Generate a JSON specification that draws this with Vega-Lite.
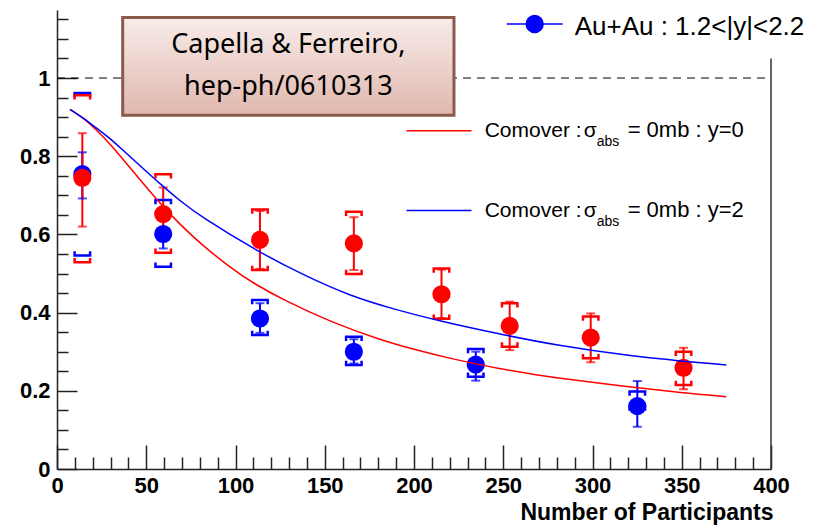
{
  "$schema": "https://vega.github.io/schema/vega-lite/v6.json",
  "width": 714,
  "height": 459,
  "autosize": {"type": "none"},
  "padding": {"left": 57, "top": 10, "right": 50, "bottom": 56},
  "background": "white",
  "config": {"view": {"stroke": null}},
  "data": {"values": [{}]},
  "resolve": {"axis": {"x": "independent", "y": "independent"}},
  "datasets": {
    "points": [
      {"series": "Au+Au 1.2<|y|<2.2", "x": 14.2, "y": 0.754, "stat_lo": 0.692, "stat_hi": 0.810, "sys_lo": 0.546, "sys_hi": 0.962},
      {"series": "Au+Au 1.2<|y|<2.2", "x": 59.5, "y": 0.601, "stat_lo": 0.564, "stat_hi": 0.638, "sys_lo": 0.517, "sys_hi": 0.688},
      {"series": "Au+Au 1.2<|y|<2.2", "x": 113.7, "y": 0.385, "stat_lo": 0.348, "stat_hi": 0.424, "sys_lo": 0.343, "sys_hi": 0.432},
      {"series": "Au+Au 1.2<|y|<2.2", "x": 166.3, "y": 0.300, "stat_lo": 0.270, "stat_hi": 0.332, "sys_lo": 0.266, "sys_hi": 0.338},
      {"series": "Au+Au 1.2<|y|<2.2", "x": 234.6, "y": 0.267, "stat_lo": 0.226, "stat_hi": 0.300, "sys_lo": 0.236, "sys_hi": 0.307},
      {"series": "Au+Au 1.2<|y|<2.2", "x": 325.1, "y": 0.161, "stat_lo": 0.108, "stat_hi": 0.225, "sys_lo": 0.152, "sys_hi": 0.198},
      {"series": "Au+Au |y|<0.35", "x": 14.2, "y": 0.745, "stat_lo": 0.620, "stat_hi": 0.859, "sys_lo": 0.529, "sys_hi": 0.956},
      {"series": "Au+Au |y|<0.35", "x": 59.5, "y": 0.652, "stat_lo": 0.584, "stat_hi": 0.720, "sys_lo": 0.553, "sys_hi": 0.754},
      {"series": "Au+Au |y|<0.35", "x": 113.7, "y": 0.586, "stat_lo": 0.512, "stat_hi": 0.660, "sys_lo": 0.509, "sys_hi": 0.664},
      {"series": "Au+Au |y|<0.35", "x": 166.3, "y": 0.577, "stat_lo": 0.509, "stat_hi": 0.644, "sys_lo": 0.499, "sys_hi": 0.658},
      {"series": "Au+Au |y|<0.35", "x": 215.4, "y": 0.447, "stat_lo": 0.386, "stat_hi": 0.510, "sys_lo": 0.384, "sys_hi": 0.513},
      {"series": "Au+Au |y|<0.35", "x": 253.6, "y": 0.366, "stat_lo": 0.304, "stat_hi": 0.428, "sys_lo": 0.313, "sys_hi": 0.424},
      {"series": "Au+Au |y|<0.35", "x": 299.0, "y": 0.336, "stat_lo": 0.273, "stat_hi": 0.398, "sys_lo": 0.283, "sys_hi": 0.390},
      {"series": "Au+Au |y|<0.35", "x": 351.0, "y": 0.259, "stat_lo": 0.204, "stat_hi": 0.310, "sys_lo": 0.215, "sys_hi": 0.300}
    ],
    "curves": [
      {"curve": "Comover y=0", "x": 7.3, "y": 0.920},
      {"curve": "Comover y=0", "x": 15, "y": 0.897},
      {"curve": "Comover y=0", "x": 22, "y": 0.868},
      {"curve": "Comover y=0", "x": 30, "y": 0.830},
      {"curve": "Comover y=0", "x": 37, "y": 0.792},
      {"curve": "Comover y=0", "x": 45, "y": 0.748},
      {"curve": "Comover y=0", "x": 56, "y": 0.688},
      {"curve": "Comover y=0", "x": 69, "y": 0.625},
      {"curve": "Comover y=0", "x": 80, "y": 0.578},
      {"curve": "Comover y=0", "x": 97, "y": 0.515},
      {"curve": "Comover y=0", "x": 110, "y": 0.475},
      {"curve": "Comover y=0", "x": 127, "y": 0.432},
      {"curve": "Comover y=0", "x": 153, "y": 0.377},
      {"curve": "Comover y=0", "x": 181, "y": 0.330},
      {"curve": "Comover y=0", "x": 203, "y": 0.302},
      {"curve": "Comover y=0", "x": 220, "y": 0.283},
      {"curve": "Comover y=0", "x": 248, "y": 0.256},
      {"curve": "Comover y=0", "x": 270, "y": 0.240},
      {"curve": "Comover y=0", "x": 282, "y": 0.232},
      {"curve": "Comover y=0", "x": 321, "y": 0.210},
      {"curve": "Comover y=0", "x": 350, "y": 0.195},
      {"curve": "Comover y=0", "x": 375, "y": 0.185},
      {"curve": "Comover y=2", "x": 7.3, "y": 0.920},
      {"curve": "Comover y=2", "x": 15, "y": 0.897},
      {"curve": "Comover y=2", "x": 22, "y": 0.872},
      {"curve": "Comover y=2", "x": 30, "y": 0.845},
      {"curve": "Comover y=2", "x": 37, "y": 0.815},
      {"curve": "Comover y=2", "x": 45, "y": 0.782},
      {"curve": "Comover y=2", "x": 59.5, "y": 0.722},
      {"curve": "Comover y=2", "x": 69, "y": 0.686},
      {"curve": "Comover y=2", "x": 80, "y": 0.647},
      {"curve": "Comover y=2", "x": 114, "y": 0.552},
      {"curve": "Comover y=2", "x": 140, "y": 0.492},
      {"curve": "Comover y=2", "x": 164, "y": 0.443},
      {"curve": "Comover y=2", "x": 190, "y": 0.407},
      {"curve": "Comover y=2", "x": 214, "y": 0.379},
      {"curve": "Comover y=2", "x": 248, "y": 0.345},
      {"curve": "Comover y=2", "x": 280, "y": 0.316},
      {"curve": "Comover y=2", "x": 321, "y": 0.289},
      {"curve": "Comover y=2", "x": 350, "y": 0.276},
      {"curve": "Comover y=2", "x": 375, "y": 0.266}
    ]
  },
  "layer": [
    {
      "data": {"name": "points"},
      "mark": {"type": "rule", "strokeWidth": 2},
      "encoding": {
        "x": {"field": "x", "type": "quantitative", "scale": {"domain": [0, 400], "nice": false},
          "axis": {
            "orient": "bottom",
            "values": [0, 50, 100, 150, 200, 250, 300, 350, 400],
            "format": "d",
            "tickSize": -24,
            "tickColor": "#222222", "tickWidth": 1.5,
            "domainColor": "#222222", "domainWidth": 1.5,
            "labelFont": "Liberation Sans", "labelFontWeight": "bold", "labelFontSize": 22, "labelColor": "black",
            "labelBaseline": "top", "labelPadding": 30, "labelFlush": false, "labelOverlap": false,
            "grid": false,
            "title": "Number of Participants", "titleFont": "Liberation Sans", "titleFontWeight": "bold", "titleFontSize": 23,
            "titleColor": "black", "titleAlign": "right", "titleAnchor": "end", "titleBaseline": "alphabetic", "titleX": 716, "titleY": 50
          }},
        "y": {"field": "stat_lo", "type": "quantitative", "scale": {"domain": [0, 1.174], "nice": false},
          "axis": {
            "orient": "left",
            "values": [0, 0.2, 0.4, 0.6, 0.8, 1],
            "labelExpr": "format(datum.value, '.1~f')",
            "tickSize": -20,
            "tickColor": "#222222", "tickWidth": 1.5,
            "domainColor": "#222222", "domainWidth": 1.5,
            "labelFont": "Liberation Sans", "labelFontWeight": "bold", "labelFontSize": 22, "labelColor": "black",
            "labelAlign": "right", "labelBaseline": "middle", "labelPadding": 27, "labelFlush": false, "labelOverlap": false,
            "grid": false, "title": null
          }},
        "y2": {"field": "stat_hi"},
        "color": {"field": "series", "type": "nominal", "legend": null,
          "scale": {"domain": ["Au+Au 1.2<|y|<2.2", "Au+Au |y|<0.35", "Comover y=0", "Comover y=2"], "range": ["#0000ff", "#ff0000", "#ff0000", "#0000ff"]}}
      }
    },
    {
      "mark": {"type": "rule", "color": "black", "strokeWidth": 1, "strokeDash": [8, 6]},
      "encoding": {
        "x": {"datum": 0, "type": "quantitative",
          "axis": {
            "orient": "bottom",
            "values": [10,20,30,40,60,70,80,90,110,120,130,140,160,170,180,190,210,220,230,240,260,270,280,290,310,320,330,340,360,370,380,390],
            "tickSize": -12, "tickColor": "#222222", "tickWidth": 1.5,
            "domain": false, "labels": false, "grid": false, "title": null
          }},
        "x2": {"datum": 400},
        "y": {"datum": 1, "type": "quantitative",
          "axis": {
            "orient": "left",
            "values": [0.05,0.1,0.15,0.25,0.3,0.35,0.45,0.5,0.55,0.65,0.7,0.75,0.85,0.9,0.95,1.05,1.1,1.15],
            "tickSize": -11, "tickColor": "#222222", "tickWidth": 1.5,
            "domain": false, "labels": false, "grid": false, "title": null
          }}
      }
    },
    {
      "mark": {"type": "rule", "color": "#333333", "strokeWidth": 1.5},
      "encoding": {
        "x": {"datum": 400, "type": "quantitative", "axis": null},
        "y": {"datum": 0, "type": "quantitative", "axis": null},
        "y2": {"datum": 1.05}
      }
    },
    {
      "data": {"name": "points"},
      "mark": {"type": "tick", "orient": "horizontal", "size": 9, "thickness": 2},
      "encoding": {
        "x": {"field": "x", "type": "quantitative", "axis": null},
        "y": {"field": "stat_lo", "type": "quantitative", "axis": null},
        "color": {"field": "series", "type": "nominal", "legend": null}
      }
    },
    {
      "data": {"name": "points"},
      "mark": {"type": "tick", "orient": "horizontal", "size": 9, "thickness": 2},
      "encoding": {
        "x": {"field": "x", "type": "quantitative", "axis": null},
        "y": {"field": "stat_hi", "type": "quantitative", "axis": null},
        "color": {"field": "series", "type": "nominal", "legend": null}
      }
    },
    {
      "data": {"name": "points"},
      "mark": {"type": "point", "shape": "M-1,0.55L-1,0L1,0L1,0.55", "filled": false, "size": 240, "strokeWidth": 2.5, "opacity": 1},
      "encoding": {
        "x": {"field": "x", "type": "quantitative", "axis": null},
        "y": {"field": "sys_hi", "type": "quantitative", "axis": null},
        "color": {"field": "series", "type": "nominal", "legend": null}
      }
    },
    {
      "data": {"name": "points"},
      "mark": {"type": "point", "shape": "M-1,-0.55L-1,0L1,0L1,-0.55", "filled": false, "size": 240, "strokeWidth": 2.5, "opacity": 1},
      "encoding": {
        "x": {"field": "x", "type": "quantitative", "axis": null},
        "y": {"field": "sys_lo", "type": "quantitative", "axis": null},
        "color": {"field": "series", "type": "nominal", "legend": null}
      }
    },
    {
      "data": {"name": "points"},
      "mark": {"type": "point", "shape": "circle", "filled": true, "size": 330, "opacity": 1},
      "encoding": {
        "x": {"field": "x", "type": "quantitative", "axis": null},
        "y": {"field": "y", "type": "quantitative", "axis": null},
        "color": {"field": "series", "type": "nominal", "legend": null}
      }
    },
    {
      "data": {"name": "curves"},
      "mark": {"type": "line", "strokeWidth": 1.5, "interpolate": "basis"},
      "encoding": {
        "x": {"field": "x", "type": "quantitative", "axis": null},
        "y": {"field": "y", "type": "quantitative", "axis": null},
        "color": {"field": "curve", "type": "nominal", "legend": null}
      }
    },
    {
      "mark": {"type": "rule", "color": "#0000ff", "strokeWidth": 1.5},
      "encoding": {
        "x": {"datum": 252, "type": "quantitative", "axis": null},
        "x2": {"datum": 283.3},
        "y": {"datum": 1.138, "type": "quantitative", "axis": null}
      }
    },
    {
      "mark": {"type": "point", "shape": "circle", "filled": true, "size": 340, "color": "#0000ff", "opacity": 1},
      "encoding": {
        "x": {"datum": 267.6, "type": "quantitative", "axis": null},
        "y": {"datum": 1.138, "type": "quantitative", "axis": null}
      }
    },
    {
      "mark": {"type": "text", "text": "Au+Au : 1.2<|y|<2.2", "font": "Liberation Sans", "fontSize": 26, "align": "left", "baseline": "alphabetic", "color": "black"},
      "encoding": {
        "x": {"datum": 290, "type": "quantitative", "axis": null},
        "y": {"datum": 1.110, "type": "quantitative", "axis": null}
      }
    },
    {
      "mark": {"type": "rule", "color": "#ff0000", "strokeWidth": 1.5},
      "encoding": {
        "x": {"datum": 195.8, "type": "quantitative", "axis": null},
        "x2": {"datum": 232.2},
        "y": {"datum": 0.865, "type": "quantitative", "axis": null}
      }
    },
    {
      "mark": {"type": "rule", "color": "#0000ff", "strokeWidth": 1.5},
      "encoding": {
        "x": {"datum": 195.8, "type": "quantitative", "axis": null},
        "x2": {"datum": 232.2},
        "y": {"datum": 0.661, "type": "quantitative", "axis": null}
      }
    },
    {
      "mark": {"type": "text", "text": "Comover :", "font": "Liberation Sans", "fontSize": 21, "align": "left", "baseline": "alphabetic", "color": "black"},
      "encoding": {"x": {"datum": 239.6, "type": "quantitative", "axis": null}, "y": {"datum": 0.850, "type": "quantitative", "axis": null}}
    },
    {
      "mark": {"type": "text", "text": "σ", "font": "Liberation Sans", "fontSize": 21, "align": "left", "baseline": "alphabetic", "color": "black"},
      "encoding": {"x": {"datum": 295.1, "type": "quantitative", "axis": null}, "y": {"datum": 0.850, "type": "quantitative", "axis": null}}
    },
    {
      "mark": {"type": "text", "text": "abs", "font": "Liberation Sans", "fontSize": 14, "align": "left", "baseline": "alphabetic", "color": "black"},
      "encoding": {"x": {"datum": 302.4, "type": "quantitative", "axis": null}, "y": {"datum": 0.826, "type": "quantitative", "axis": null}}
    },
    {
      "mark": {"type": "text", "text": "= 0mb : y=0", "font": "Liberation Sans", "fontSize": 22, "align": "left", "baseline": "alphabetic", "color": "black"},
      "encoding": {"x": {"datum": 319.7, "type": "quantitative", "axis": null}, "y": {"datum": 0.850, "type": "quantitative", "axis": null}}
    },
    {
      "mark": {"type": "text", "text": "Comover :", "font": "Liberation Sans", "fontSize": 21, "align": "left", "baseline": "alphabetic", "color": "black"},
      "encoding": {"x": {"datum": 239.6, "type": "quantitative", "axis": null}, "y": {"datum": 0.645, "type": "quantitative", "axis": null}}
    },
    {
      "mark": {"type": "text", "text": "σ", "font": "Liberation Sans", "fontSize": 21, "align": "left", "baseline": "alphabetic", "color": "black"},
      "encoding": {"x": {"datum": 295.1, "type": "quantitative", "axis": null}, "y": {"datum": 0.645, "type": "quantitative", "axis": null}}
    },
    {
      "mark": {"type": "text", "text": "abs", "font": "Liberation Sans", "fontSize": 14, "align": "left", "baseline": "alphabetic", "color": "black"},
      "encoding": {"x": {"datum": 302.4, "type": "quantitative", "axis": null}, "y": {"datum": 0.621, "type": "quantitative", "axis": null}}
    },
    {
      "mark": {"type": "text", "text": "= 0mb : y=2", "font": "Liberation Sans", "fontSize": 22, "align": "left", "baseline": "alphabetic", "color": "black"},
      "encoding": {"x": {"datum": 319.7, "type": "quantitative", "axis": null}, "y": {"datum": 0.645, "type": "quantitative", "axis": null}}
    },
    {
      "mark": {"type": "rect", "stroke": "#8a5a4c", "strokeWidth": 3,
        "fill": {"gradient": "linear", "x1": 0, "y1": 0, "x2": 0, "y2": 1,
          "stops": [{"offset": 0, "color": "#f8ecea"}, {"offset": 1, "color": "#e0b7ad"}]}},
      "encoding": {
        "x": {"datum": 36.8, "type": "quantitative", "axis": null},
        "x2": {"datum": 222.4},
        "y": {"datum": 0.905, "type": "quantitative", "axis": null},
        "y2": {"datum": 1.155}
      }
    },
    {
      "mark": {"type": "text", "text": "Capella & Ferreiro,", "font": "Noto Sans", "fontSize": 27, "align": "center", "baseline": "alphabetic", "color": "black"},
      "encoding": {"x": {"datum": 129.6, "type": "quantitative", "axis": null}, "y": {"datum": 1.063, "type": "quantitative", "axis": null}}
    },
    {
      "mark": {"type": "text", "text": "hep-ph/0610313", "font": "Noto Sans", "fontSize": 27, "align": "center", "baseline": "alphabetic", "color": "black"},
      "encoding": {"x": {"datum": 129.6, "type": "quantitative", "axis": null}, "y": {"datum": 0.957, "type": "quantitative", "axis": null}}
    }
  ]
}
